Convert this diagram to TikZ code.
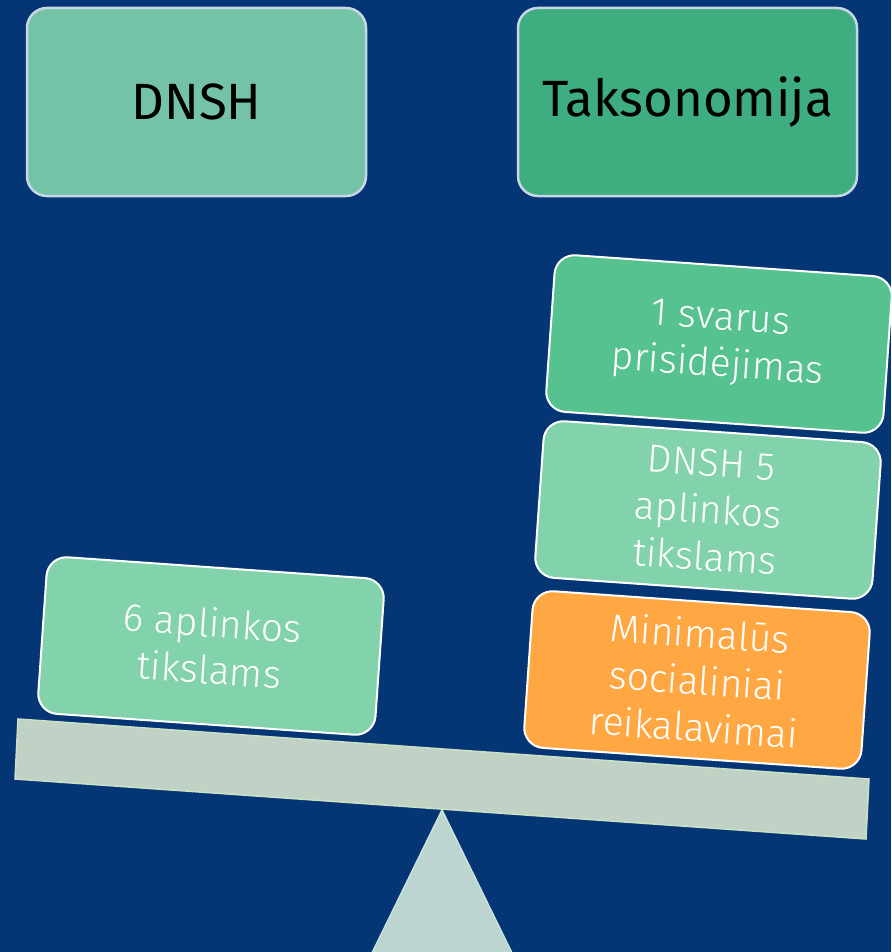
\documentclass[tikz,border=0pt]{standalone}
\usepackage{fontspec}
\setmainfont{Fira Sans}
\newfontfamily\lightfont{Fira Sans Light}
\definecolor{bg}{RGB}{4,54,118}
\definecolor{dnshc}{RGB}{116,195,166}
\definecolor{taxc}{RGB}{62,173,128}
\definecolor{topborder}{RGB}{200,214,230}
\definecolor{midg}{RGB}{86,194,144}
\definecolor{lightg}{RGB}{130,211,172}
\definecolor{orangec}{RGB}{255,168,67}
\definecolor{beamc}{RGB}{192,209,198}
\definecolor{beamborder}{RGB}{205,224,196}
\definecolor{tric}{RGB}{188,213,209}
\definecolor{triborder}{RGB}{201,227,217}
\begin{document}
\begin{tikzpicture}[x=1pt,y=-1pt,
  topbox/.style={draw=topborder, line width=2.5pt, rounded corners=20pt,
    minimum width=339pt, minimum height=188pt, inner sep=2pt,
    font=\fontsize{51}{60}\selectfont, text=black},
  blk/.style={draw=white, line width=2pt, rounded corners=20pt,
    minimum width=338pt, minimum height=157pt, inner sep=2pt, rotate=-4,
    align=center, text=white, font=\lightfont\fontsize{39}{47}\selectfont}]
\useasboundingbox (0,0) rectangle (891,952);
\fill[bg] (0,0) rectangle (891,952);
\node[topbox, fill=dnshc] (dnsh) at (196.5,102) {DNSH};
\node[topbox, fill=taxc] (tax) at (687.5,102) {Taksonomija};
\filldraw[fill=tric, draw=triborder, line width=1.5pt] (442,810) -- (371,955) -- (513,955) -- cycle;
\filldraw[fill=beamc, draw=beamborder, line width=1.5pt] (18,719) -- (869,779) -- (866,839) -- (15,779) -- cycle;
\node[blk, fill=lightg] (six) at (211,646) {6 aplinkos\\tikslams};
\node[blk, fill=midg] (one) at (719,344) {1 svarus\\prisidėjimas};
\node[blk, fill=lightg] (five) at (708,510) {DNSH 5\\aplinkos\\tikslams};
\node[blk, fill=orangec] (minsoc) at (697,680) {Minimalūs\\socialiniai\\reikalavimai};
\end{tikzpicture}
\end{document}
